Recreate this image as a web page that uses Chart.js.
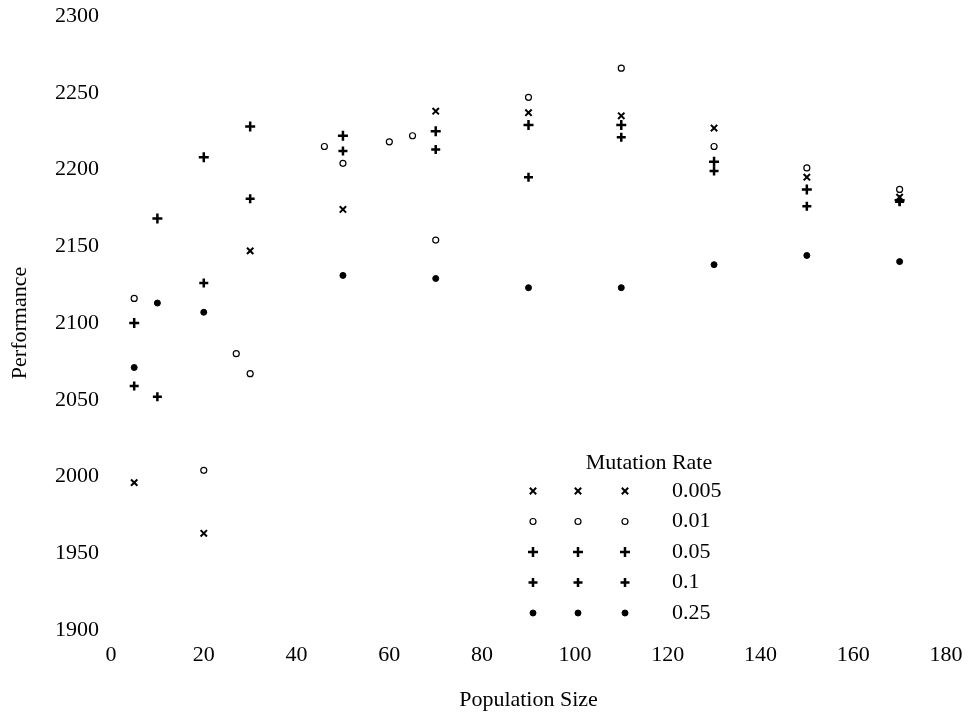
<!DOCTYPE html>
<html>
<head>
<meta charset="utf-8">
<script src="https://cdn.jsdelivr.net/npm/chart.js@4/dist/chart.umd.min.js"></script>
<style>
  html, body { margin: 0; padding: 0; background: #fff; }
  canvas { display: block; }
</style>
</head>
<body>
<canvas id="perfChart" width="976" height="717"></canvas>
<script>
// Population sizes (x) and performance per mutation rate (null = mark not visible)
const popSizes = [5, 10, 20, 30, 50, 70, 90, 110, 130, 150, 170];
const rate0005 = [1996, null, 1963, 2147, 2174, 2238, 2237, 2235, 2227, 2195, 2182];
const rate001  = [2116, null, 2004, 2067, 2204, 2154, 2247, 2266, 2215, 2201, 2187];
const rate005  = [2100, 2168, 2208, 2228, 2222, 2225, 2229, 2229, 2205, 2187, 2180];
const rate01   = [2059, 2052, 2126, 2181, 2212, 2213, 2195, 2221, 2199, 2176, 2179];
const rate025  = [2071, 2113, 2107, null, 2131, 2129, 2123, 2123, 2138, 2144, 2140];

// faint extra marks of the 0.01 series
const extraX001 = [27, 46, 60, 65];
const extraY001 = [2080, 2215, 2218, 2222];

const rateLabels = ["0.005", "0.01", "0.05", "0.1", "0.25"];
const xTicks = [0, 20, 40, 60, 80, 100, 120, 140, 160, 180];
const yTicks = [1900, 1950, 2000, 2050, 2100, 2150, 2200, 2250, 2300];

function toPoints(xs, ys) {
    const pts = [];
    xs.forEach((x, i) => { if (ys[i] !== null) pts.push({ x: x, y: ys[i] }); });
    return pts;
}

const serif = "'Liberation Serif', 'Times New Roman', serif";

const styles = [
    { pointStyle: "crossRot", pointRadius: 4.5, borderWidth: 2, bg: "#000" },
    { pointStyle: "circle", pointRadius: 3, borderWidth: 1.2, bg: "#fff" },
    { pointStyle: "cross", pointRadius: 5, borderWidth: 2.5, bg: "#000" },
    { pointStyle: "cross", pointRadius: 4.5, borderWidth: 2.5, bg: "#000" },
    { pointStyle: "circle", pointRadius: 3, borderWidth: 1, bg: "#000" }
];

const seriesData = [
    toPoints(popSizes, rate0005),
    toPoints(popSizes, rate001).concat(toPoints(extraX001, extraY001)),
    toPoints(popSizes, rate005),
    toPoints(popSizes, rate01),
    toPoints(popSizes, rate025)
];

const datasets = rateLabels.map((lbl, i) => ({
    label: lbl,
    data: seriesData[i],
    pointStyle: styles[i].pointStyle,
    pointRadius: styles[i].pointRadius,
    pointBorderWidth: styles[i].borderWidth,
    borderColor: "#000",
    backgroundColor: styles[i].bg,
    showLine: false
}));

// legend drawn inside the plot: title plus three sample marks per row
const mutationLegend = {
    id: "mutationLegend",
    afterDatasetsDraw(chart) {
        const ctx = chart.ctx;
        ctx.save();
        ctx.fillStyle = "#000";
        ctx.font = "22px " + serif;
        ctx.textAlign = "center";
        ctx.textBaseline = "middle";
        ctx.fillText("Mutation Rate", 649, 463);
        ctx.textAlign = "left";
        chart.data.datasets.forEach((ds, i) => {
            const y = 491 + i * 30.5;
            [533, 578, 625].forEach(x => {
                ctx.strokeStyle = "#000";
                ctx.fillStyle = ds.backgroundColor;
                ctx.lineWidth = ds.pointBorderWidth;
                Chart.helpers.drawPoint(ctx, {
                    pointStyle: ds.pointStyle,
                    radius: ds.pointRadius,
                    rotation: 0,
                    borderWidth: ds.pointBorderWidth
                }, x, y);
            });
            ctx.fillStyle = "#000";
            ctx.fillText(ds.label, 672, y);
        });
        ctx.restore();
    }
};

new Chart(document.getElementById("perfChart"), {
    type: "scatter",
    data: { datasets: datasets },
    plugins: [mutationLegend],
    options: {
        responsive: false,
        animation: false,
        devicePixelRatio: 1,
        layout: { padding: { top: 16, right: 30, left: 0, bottom: 0 } },
        plugins: {
            legend: { display: false },
            tooltip: { enabled: false }
        },
        scales: {
            x: {
                type: "linear",
                min: 0,
                max: 180,
                afterBuildTicks: axis => { axis.ticks = xTicks.map(v => ({ value: v })); },
                afterFit: axis => {
                    axis.height = 87;
                    axis.paddingLeft = 0;
                    axis.paddingRight = 0;
                },
                grid: { display: false, drawTicks: false },
                border: { display: false },
                ticks: {
                    color: "#000",
                    padding: 12,
                    font: { family: serif, size: 22 },
                    callback: v => String(v)
                },
                title: {
                    display: true,
                    text: "Population Size",
                    color: "#000",
                    font: { family: serif, size: 22 },
                    padding: { top: 0, bottom: 4 }
                }
            },
            y: {
                min: 1900,
                max: 2300,
                afterBuildTicks: axis => { axis.ticks = yTicks.map(v => ({ value: v })); },
                afterFit: axis => {
                    axis.width = 111;
                    axis.paddingTop = 0;
                    axis.paddingBottom = 0;
                },
                grid: { display: false, drawTicks: false },
                border: { display: false },
                ticks: {
                    color: "#000",
                    padding: 12,
                    font: { family: serif, size: 22 },
                    callback: v => String(v)
                },
                title: {
                    display: true,
                    text: "Performance",
                    color: "#000",
                    font: { family: serif, size: 22 },
                    padding: { top: 7, bottom: 0 }
                }
            }
        }
    }
});
</script>
</body>
</html>
